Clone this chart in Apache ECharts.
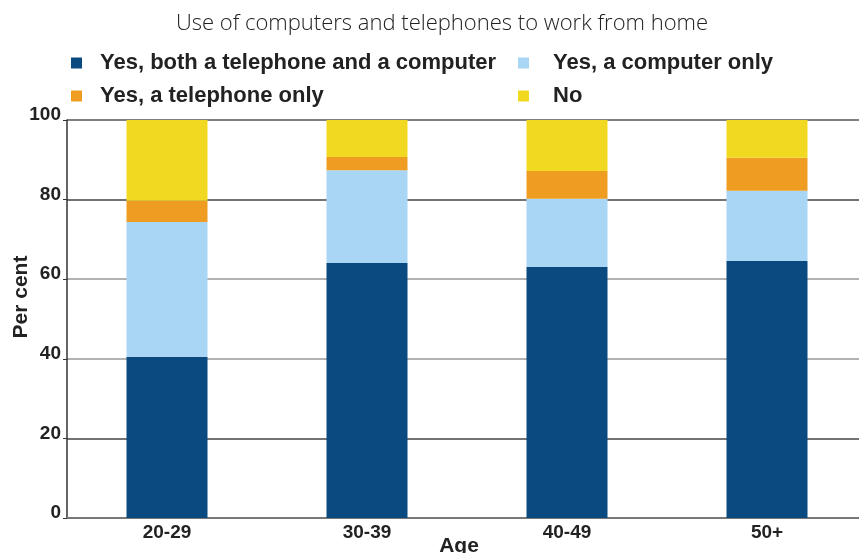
<!DOCTYPE html>
<html>
<head>
<meta charset="utf-8">
<script src="https://cdn.jsdelivr.net/npm/echarts@6/dist/echarts.min.js"></script>
<style>
  html, body { margin: 0; padding: 0; background: #fff; }
  #chart { width: 859px; height: 553px; }
</style>
</head>
<body>
<div id="chart"></div>
<script>
// age groups on the x axis
const ageGroups = ['20-29', '30-39', '40-49', '50+']

// per cent of each age group (stacks add up to 100)
const bothPhoneAndComputer = [40.5, 64.1, 63.1, 64.6]
const computerOnly = [33.9, 23.3, 17.1, 17.6]
const telephoneOnly = [5.3, 3.3, 7.0, 8.3]
const noneUsed = [20.3, 9.3, 12.8, 9.5]

const yTicks = [0, 20, 40, 60, 80, 100]

const chart = echarts.init(document.getElementById('chart'))

const font = "'Liberation Sans', Arial, sans-serif"

const legendText = (gap) => ({
  fontFamily: font,
  fontWeight: 'bold',
  fontSize: 22,
  color: '#222',
  padding: [0, 0, 0, gap]
})

const bar = (name, data, color) => ({
  name,
  type: 'bar',
  stack: 'total',
  data,
  barWidth: 81,
  itemStyle: { color },
  emphasis: { disabled: true }
})

chart.setOption({
  animation: false,
  title: {
    text: 'Use of computers and telephones to work from home',
    left: 437,
    textAlign: 'center',
    top: 8,
    textStyle: {
      fontFamily: "'Open Sans', sans-serif",
      fontWeight: 300,
      fontSize: 22,
      color: '#222'
    }
  },
  legend: [
    {
      orient: 'vertical',
      left: 66,
      top: 47,
      itemWidth: 11,
      itemHeight: 11,
      itemGap: 11,
      icon: 'rect',
      data: ['Yes, both a telephone and a computer', 'Yes, a telephone only'],
      textStyle: legendText(13)
    },
    {
      orient: 'vertical',
      left: 513,
      top: 47,
      itemWidth: 11,
      itemHeight: 11,
      itemGap: 11,
      icon: 'rect',
      data: ['Yes, a computer only', 'No'],
      textStyle: legendText(19)
    }
  ],
  grid: {
    left: 67,
    top: 120,
    width: 800,
    height: 398,
    outerBoundsMode: 'none',
    containLabel: false
  },
  xAxis: {
    type: 'category',
    data: ageGroups,
    name: 'Age',
    nameLocation: 'middle',
    nameGap: 18,
    nameMoveOverlap: false,
    nameTextStyle: {
      fontFamily: font,
      fontWeight: 'bold',
      fontSize: 21,
      color: '#222',
      padding: [0, 16, 0, 0]
    },
    axisLine: { lineStyle: { color: '#777', width: 2 } },
    axisTick: { show: false },
    axisLabel: {
      margin: 5,
      fontFamily: font,
      fontWeight: 'bold',
      fontSize: 19,
      color: '#222'
    }
  },
  yAxis: {
    type: 'value',
    min: 0,
    max: 100,
    interval: 20,
    name: 'Per cent',
    nameLocation: 'middle',
    nameGap: 35,
    nameMoveOverlap: false,
    nameTextStyle: {
      fontFamily: font,
      fontWeight: 'bold',
      fontSize: 21,
      color: '#222',
      padding: [0, 0, 0, 44]
    },
    axisLine: { show: true, lineStyle: { color: '#333', width: 1.5 } },
    axisTick: { show: true, length: 4, lineStyle: { color: '#333' } },
    axisLabel: {
      margin: 6,
      verticalAlign: 'bottom',
      lineHeight: 10,
      fontFamily: font,
      fontWeight: 'bold',
      fontSize: 19,
      color: '#222',
      formatter: v => (yTicks.includes(v) ? String(v) : '')
    },
    splitLine: {
      show: true,
      lineStyle: {
        color: ['#777', '#444', '#999', '#999', '#444', '#555'],
        width: 1.5
      }
    }
  },
  series: [
    bar('Yes, both a telephone and a computer', bothPhoneAndComputer, '#0b4a80'),
    bar('Yes, a computer only', computerOnly, '#a9d6f4'),
    bar('Yes, a telephone only', telephoneOnly, '#ef9d22'),
    bar('No', noneUsed, '#f2d921')
  ]
})
</script>
</body>
</html>
